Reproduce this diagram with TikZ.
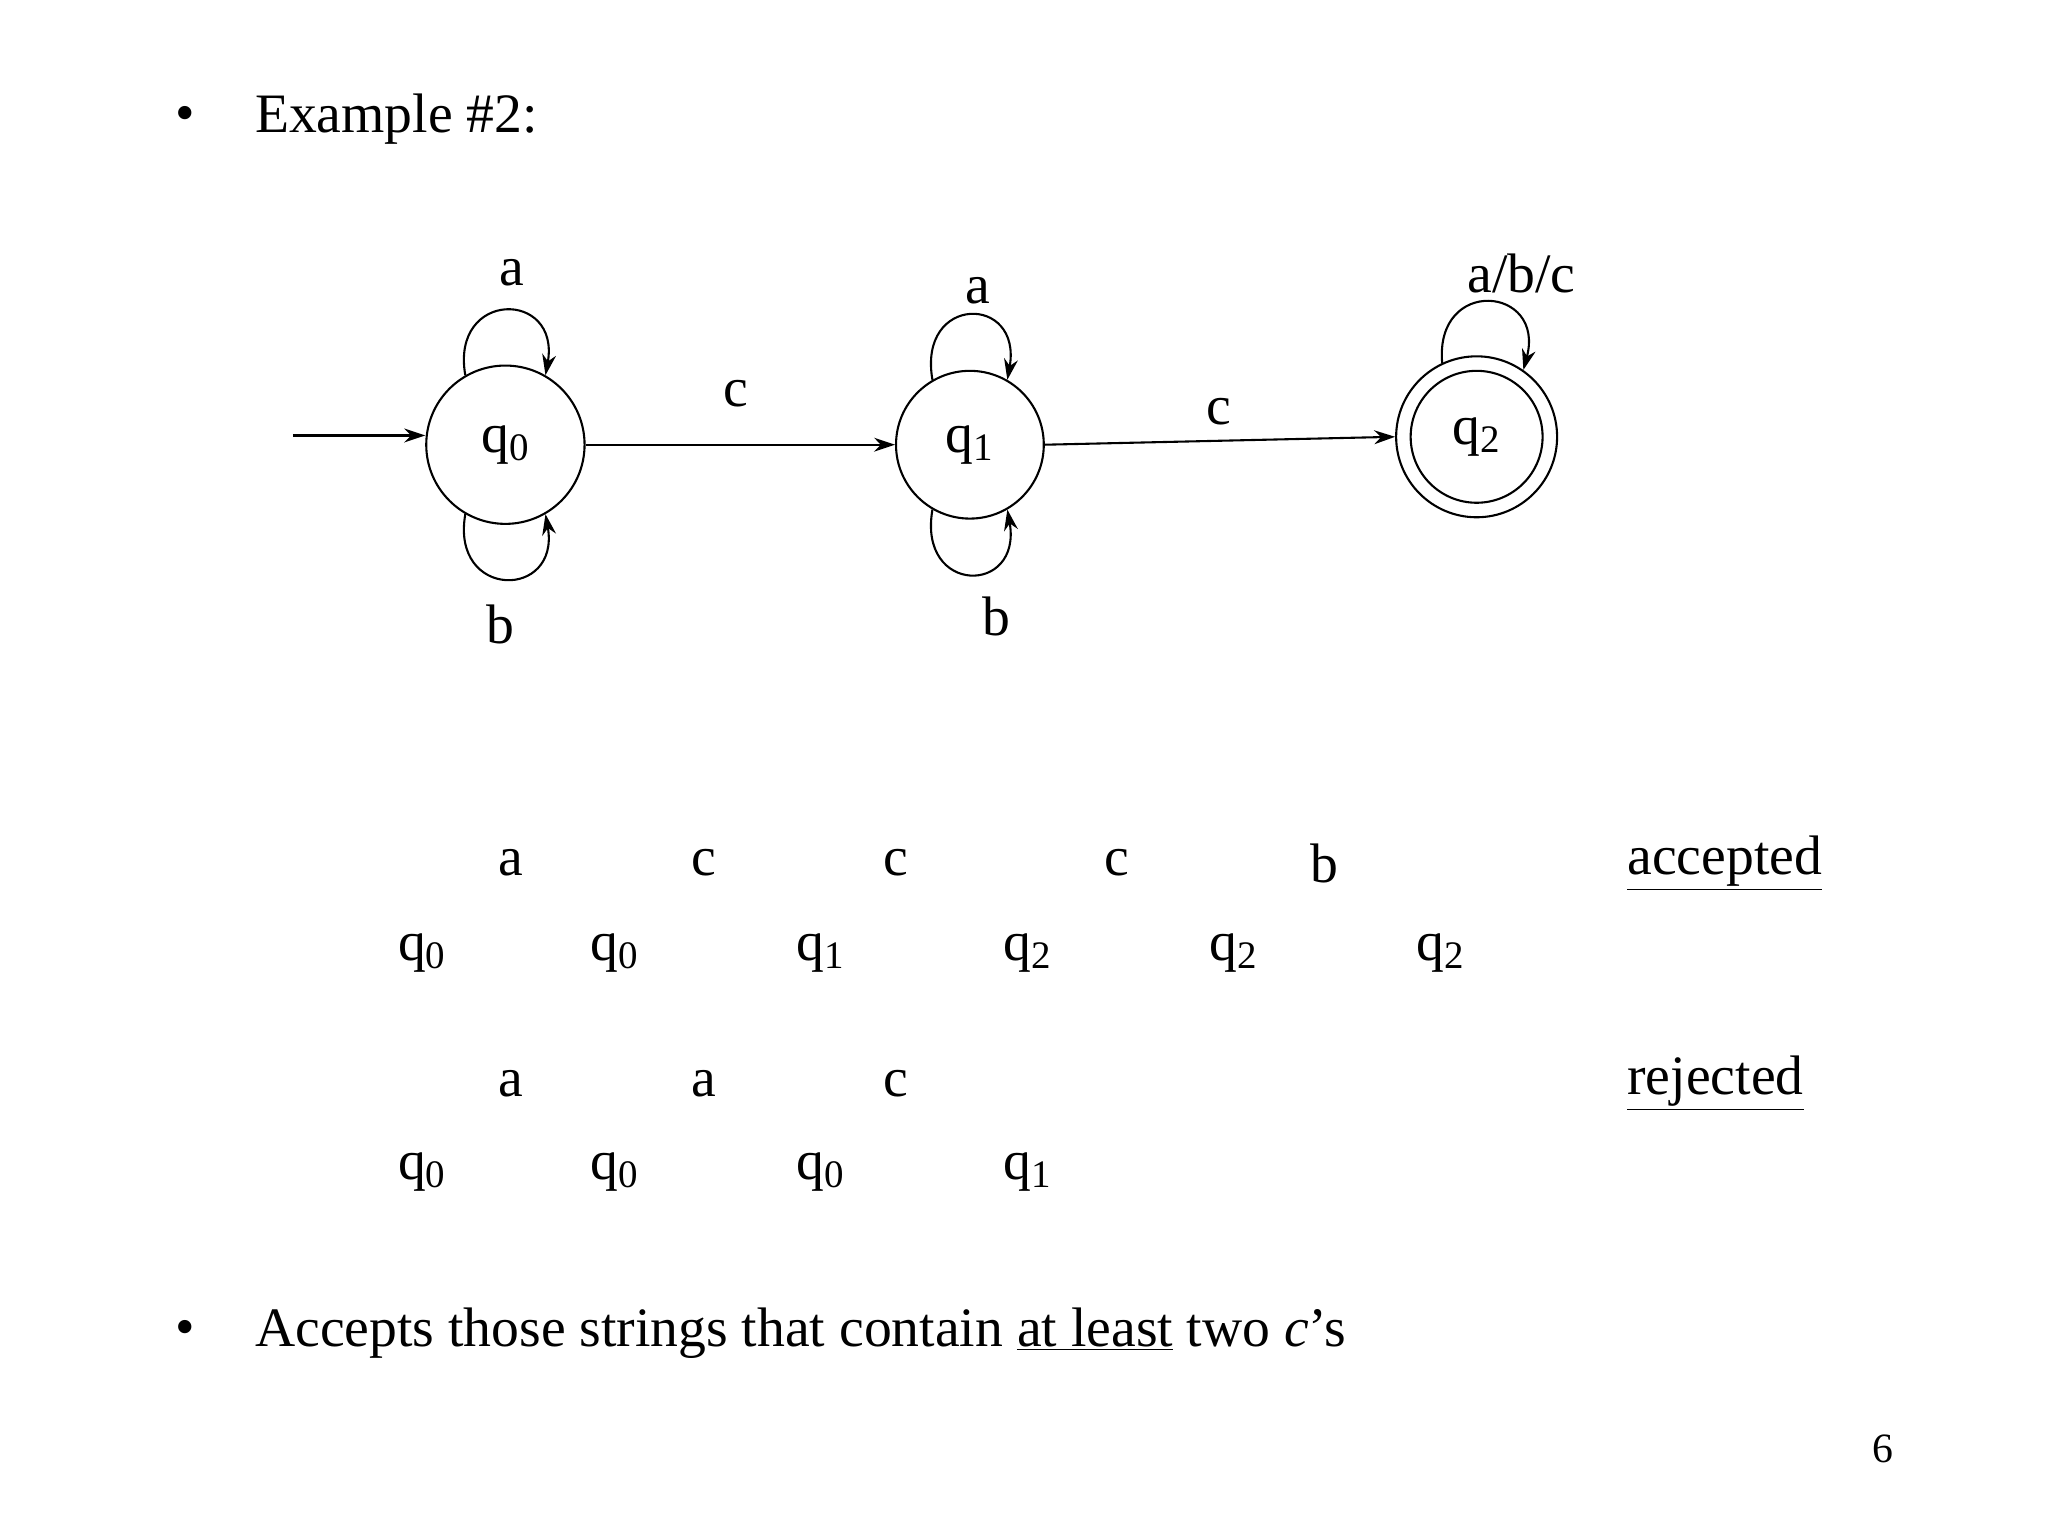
\documentclass[tikz,border=0pt]{standalone}
\usepackage{fontspec}
\setmainfont{Liberation Serif}
\usetikzlibrary{arrows.meta}
\newcommand\qq[1]{q\textsubscript{#1}}
\begin{document}
\begin{tikzpicture}[x=0.02cm,y=0.02cm,
  every node/.style={font=\fontsize{24}{28}\selectfont,inner sep=0pt},
  st/.style={draw,circle,minimum size=2.4cm,line width=0.9pt},
  edge/.style={line width=0.9pt,-{Stealth[length=9pt,width=6pt]}}]
\useasboundingbox (0,0) rectangle (1552,-1164);
\node at (140,-90) {•};
\node[anchor=west] at (193,-90) {Example \#2:};
\node[st] (q0) at (383,-337) {\qq{0}};
\node[st,minimum size=2.24cm] (q1) at (735,-337) {\qq{1}};
\node[st,minimum size=2.44cm] (q2) at (1119,-331) {};
\node[draw,circle,minimum size=2.0cm,line width=0.9pt] (q2i) at (1119,-331) {\qq{2}};
\coordinate (init) at (222,-330);
\draw[edge] (init) -- (q0.west |- init);
\draw[edge] (q0.east) -- (q1.west);
\draw[edge] (q1.east) -- (q2.west);
\draw[edge] (q0.120) .. controls +(100:66) and +(80:66) .. (q0.60);
\draw[edge] (q0.240) .. controls +(260:66) and +(280:66) .. (q0.300);
\draw[edge] (q1.120) .. controls +(100:66) and +(80:66) .. (q1.60);
\draw[edge] (q1.240) .. controls +(260:66) and +(280:66) .. (q1.300);
\draw[edge] (q2.115) .. controls +(95:66) and +(75:66) .. (q2.55);
\node (la0) at (388,-207) {a};
\node (lb0) at (379,-473) {b};
\node (la1) at (741,-220) {a};
\node (lb1) at (755,-467) {b};
\node (la2) at (1153,-207) {a/b/c};
\node (lc1) at (558,-298) {c};
\node (lc2) at (924,-312) {c};
\foreach \x/\t in {387/a,533/c,679/c,846/c,1004/b} \node at (\x,-654) {\t};
\node at (1307,-654) {\underline{accepted}};
\foreach \x/\t in {320/0,466/0,622/1,779/2,935/2,1092/2} \node at (\x,-722) {\qq{\t}};
\foreach \x/\t in {387/a,533/a,679/c} \node at (\x,-821) {\t};
\node at (1300,-821) {\underline{rejected}};
\foreach \x/\t in {320/0,466/0,622/0,779/1} \node at (\x,-888) {\qq{\t}};
\node at (140,-1010) {•};
\node[anchor=west] at (193,-1010) {Accepts those strings that contain \underline{at least} two \textit{c}’s};
\node[font=\fontsize{18}{20}\selectfont] at (1427,-1098) {6};
\end{tikzpicture}
\end{document}
